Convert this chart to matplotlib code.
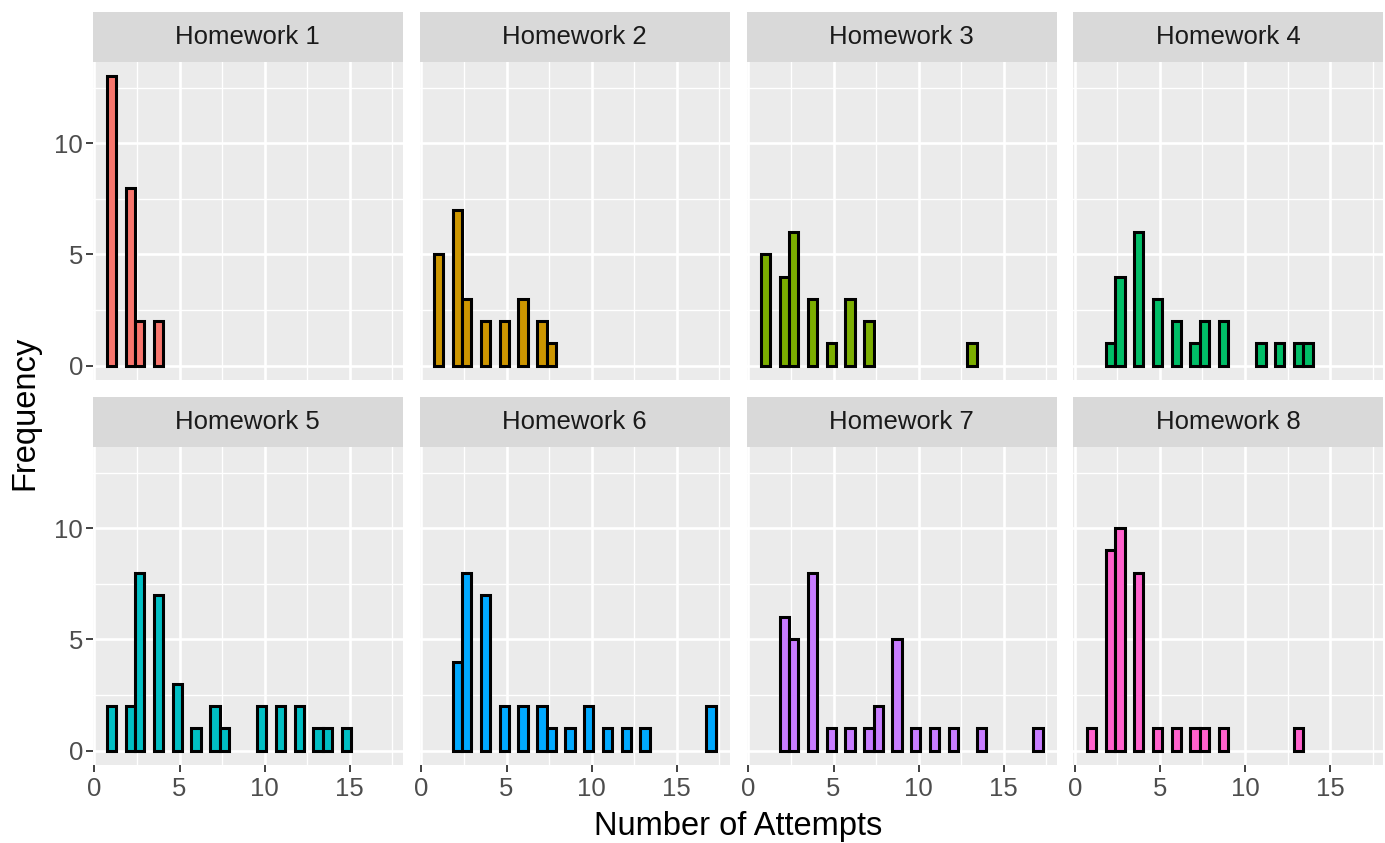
import numpy as np
import matplotlib.pyplot as plt

# histogram counts per homework, bins=30 over attempts 1..17 (ggplot default)
homeworks = ['Homework 1', 'Homework 2', 'Homework 3', 'Homework 4',
             'Homework 5', 'Homework 6', 'Homework 7', 'Homework 8']
colors = ['#F8766D', '#CD9600', '#7CAE00', '#00BE67',
          '#00BFC4', '#00A9FF', '#C77CFF', '#FF61CC']

hw1_bins = [0, 2, 3, 5]
hw1_counts = [13, 8, 2, 2]
hw2_bins = [0, 2, 3, 5, 7, 9, 11, 12]
hw2_counts = [5, 7, 3, 2, 2, 3, 2, 1]
hw3_bins = [0, 2, 3, 5, 7, 9, 11, 22]
hw3_counts = [5, 4, 6, 3, 1, 3, 2, 1]
hw4_bins = [2, 3, 5, 7, 9, 11, 12, 14, 18, 20, 22, 23]
hw4_counts = [1, 4, 6, 3, 2, 1, 2, 2, 1, 1, 1, 1]
hw5_bins = [0, 2, 3, 5, 7, 9, 11, 12, 16, 18, 20, 22, 23, 25]
hw5_counts = [2, 2, 8, 7, 3, 1, 2, 1, 2, 2, 2, 1, 1, 1]
hw6_bins = [2, 3, 5, 7, 9, 11, 12, 14, 16, 18, 20, 22, 29]
hw6_counts = [4, 8, 7, 2, 2, 2, 1, 1, 2, 1, 1, 1, 2]
hw7_bins = [2, 3, 5, 7, 9, 11, 12, 14, 16, 18, 20, 23, 29]
hw7_counts = [6, 5, 8, 1, 1, 1, 2, 5, 1, 1, 1, 1, 1]
hw8_bins = [0, 2, 3, 5, 7, 9, 11, 12, 14, 22]
hw8_counts = [1, 9, 10, 8, 1, 1, 1, 1, 1, 1]

all_bins = [hw1_bins, hw2_bins, hw3_bins, hw4_bins, hw5_bins, hw6_bins, hw7_bins, hw8_bins]
all_counts = [hw1_counts, hw2_counts, hw3_counts, hw4_counts,
              hw5_counts, hw6_counts, hw7_counts, hw8_counts]

x_min, x_max, n_bins = 1, 17, 30
binw = (x_max - x_min) / (n_bins - 1)
centers = x_min + binw * np.arange(n_bins)
lo = centers[0] - binw / 2
hi = centers[-1] + binw / 2
xlim = (lo - 0.05 * (hi - lo), hi + 0.05 * (hi - lo))
ymax = 13
ylim = (-0.05 * ymax, ymax * 1.05)

W, H = 1385, 843
fig = plt.figure(figsize=(W / 100, H / 100), dpi=100)
plt.rcParams['font.family'] = ['Liberation Sans', 'DejaVu Sans']

lefts = [92.7, 419.7, 746.7, 1073.0]
pw = 310
rows = [(12, 62, 380), (397, 447, 765)]  # strip top, panel top, panel bottom

for i, name in enumerate(homeworks):
    r, c = divmod(i, 4)
    st, pt, pb = rows[r]
    x0 = lefts[c]
    ax = fig.add_axes([x0 / W, 1 - pb / H, pw / W, (pb - pt) / H])
    sax = fig.add_axes([x0 / W, 1 - pt / H, pw / W, (pt - st) / H])

    ax.set_facecolor('#EBEBEB')
    ax.set_xlim(xlim)
    ax.set_ylim(ylim)
    ax.set_xticks([0, 5, 10, 15])
    ax.set_yticks([0, 5, 10])
    ax.set_xticks([2.5, 7.5, 12.5, 17.5], minor=True)
    ax.set_yticks([2.5, 7.5, 12.5], minor=True)
    ax.grid(which='major', color='white', linewidth=1.9)
    ax.grid(which='minor', color='white', linewidth=0.95)
    ax.set_axisbelow(True)
    for s in ax.spines.values():
        s.set_visible(False)
    ax.tick_params(which='minor', length=0)
    ax.tick_params(which='major', length=5, width=1.3, color='#333333',
                   labelsize=18.5, labelcolor='#4D4D4D', pad=2)
    ax.tick_params(axis='x', which='major', pad=4)
    if r == 0:
        ax.tick_params(axis='x', which='major', length=0, labelbottom=False)
    if c != 0:
        ax.tick_params(axis='y', which='major', length=0, labelleft=False)

    ax.bar(centers[all_bins[i]], all_counts[i], width=binw, color=colors[i],
           edgecolor='black', linewidth=2.2, zorder=3)

    sax.set_facecolor('#D9D9D9')
    sax.set_xticks([])
    sax.set_yticks([])
    for s in sax.spines.values():
        s.set_visible(False)
    sax.text(0.5, 0.5, name, ha='center', va='center', fontsize=18.5,
             color='#1A1A1A', transform=sax.transAxes)

fig.text(738 / W, 1 - 835 / H, 'Number of Attempts', ha='center', va='baseline',
         fontsize=23.5, color='black')
fig.text(25 / W, 1 - 413 / H, 'Frequency', ha='center', va='center',
         rotation=90, fontsize=23.5, color='black')

fig.savefig('out.png', dpi=100, facecolor='white')
